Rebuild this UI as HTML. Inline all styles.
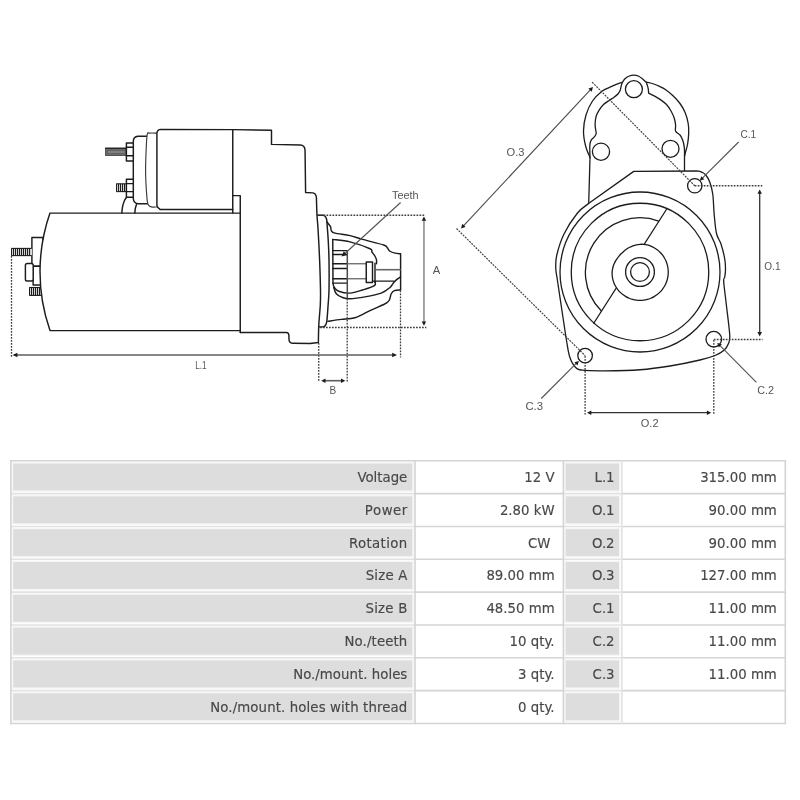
<!DOCTYPE html>
<html lang="en">
<head>
<meta charset="utf-8">
<title>Starter motor dimensions</title>
<style>
html,body{margin:0;padding:0;background:#fff;}
body{width:800px;height:800px;overflow:hidden;font-family:"Liberation Sans","DejaVu Sans",sans-serif;}
svg{display:block;will-change:transform;}
.l{fill:none;stroke:#1c1c1c;stroke-width:1.25;stroke-linejoin:round;stroke-linecap:round;}
#side .l{stroke-width:1.45;}
#front .l{stroke-width:1.3;}
.l2{fill:none;stroke:#4a4a4a;stroke-width:1.5;}
.w{fill:#fff;}
.t{fill:none;stroke:#1c1c1c;stroke-width:1.1;}
.tb{fill:#1c1c1c;stroke:none;}
.tf{fill:#fff;stroke:none;}
.bolt{fill:#6c6c6c;stroke:#4a4a4a;stroke-width:0.9;}
.bolt2{fill:#808080;stroke:#5c5c5c;stroke-width:0.7;}
#side .thin{stroke-width:1.15;stroke:#3a3a3a;}
.g{fill:none;stroke:#666;stroke-width:1.3;}
.g2{fill:none;stroke:#666;stroke-width:1.6;}
.dot{fill:none;stroke:#3c3c3c;stroke-width:1.3;stroke-dasharray:1.7 1.3;}
.dot2{fill:none;stroke:#3a3a3a;stroke-width:1.15;stroke-dasharray:1.9 1.1;}
.dim{fill:none;stroke:#333;stroke-width:1.3;}
.dimL{fill:none;stroke:#5e5e5e;stroke-width:1.6;}
.dim3{fill:none;stroke:#4a4a4a;stroke-width:1.1;}
.ldr{fill:none;stroke:#555;stroke-width:1.15;}
.dimA{fill:none;stroke:#9a9a9a;stroke-width:1.8;}
.d{font-family:"Liberation Sans","DejaVu Sans",sans-serif;font-size:11.2px;fill:#555;}
.tt{font-family:"DejaVu Sans","Liberation Sans",sans-serif;font-size:13.3px;fill:#484848;stroke:#484848;stroke-width:0.15;text-anchor:end;}
.gc{fill:#dddddd;stroke:#f6f6f6;stroke-width:3;paint-order:stroke;}
.tl{stroke:#d4d4d4;stroke-width:1.6;fill:none;}
.tl2{stroke:#e2e2e2;stroke-width:1.6;fill:none;}
</style>
</head>
<body>
<svg width="800" height="800" viewBox="0 0 800 800" role="img" aria-label="Starter motor dimension drawing and specification table">
<rect x="0" y="0" width="800" height="800" fill="#ffffff"/>
<g id="side">
<rect class="l w" x="31.9" y="237.5" width="11" height="28.75"/>
<rect class="l w" x="33.1" y="266.25" width="8" height="18.75"/>
<rect class="l w" x="25.4" y="263.5" width="7.8" height="17.5" rx="1.8"/>
<rect class="tf" x="11" y="248.4" width="20.8" height="7.2"/>
<rect class="tb" x="11" y="248.4" width="1.2" height="7.2"/>
<rect class="tb" x="13" y="248.4" width="1.2" height="7.2"/>
<rect class="tb" x="15" y="248.4" width="1.2" height="7.2"/>
<rect class="tb" x="17" y="248.4" width="1.2" height="7.2"/>
<rect class="tb" x="19" y="248.4" width="1.2" height="7.2"/>
<rect class="tb" x="21" y="248.4" width="1.2" height="7.2"/>
<rect class="tb" x="23" y="248.4" width="1.2" height="7.2"/>
<rect class="tb" x="25" y="248.4" width="1.2" height="7.2"/>
<rect class="tb" x="27" y="248.4" width="1.2" height="7.2"/>
<rect class="tb" x="29" y="248.4" width="1.2" height="7.2"/>
<line class="t" x1="11.3" y1="248.4" x2="31.8" y2="248.4"/>
<line class="t" x1="11.3" y1="255.6" x2="31.8" y2="255.6"/>
<rect class="tf" x="29" y="287.5" width="12.2" height="7.9"/>
<rect class="tb" x="29" y="287.5" width="1.2" height="7.9"/>
<rect class="tb" x="31" y="287.5" width="1.2" height="7.9"/>
<rect class="tb" x="33" y="287.5" width="1.2" height="7.9"/>
<rect class="tb" x="35" y="287.5" width="1.2" height="7.9"/>
<rect class="tb" x="37" y="287.5" width="1.2" height="7.9"/>
<rect class="tb" x="39" y="287.5" width="1.2" height="7.9"/>
<line class="t" x1="29.3" y1="287.5" x2="41.2" y2="287.5"/>
<line class="t" x1="29.3" y1="295.4" x2="41.2" y2="295.4"/>
<path class="l w" d="M240.25,213.1 L50,213.1 A177.6,177.6 0 0 0 50,330.6 L240.25,330.6"/>
<path class="l w" d="M146.7,136.25 L138,136.25 Q133.3,136.6 133.3,141.5 L133.3,198.5 Q133.6,203.6 138.5,203.75 L147.6,203.75"/>
<path class="l w thin" d="M156.9,133.1 C155.67,133.1 151.1,132.92 149.5,133.1 C147.9,133.28 147.84,131.8 147.3,134.2 C146.76,136.6 146.53,141.12 146.25,147.5 C145.97,153.88 145.49,164.17 145.6,172.5 C145.71,180.83 146.48,192.18 146.9,197.5 C147.32,202.82 147.38,202.83 148.1,204.4 C148.82,205.97 149.78,206.47 151.25,206.9 C152.72,207.33 155.96,206.98 156.9,207"/>
<path class="l w" d="M232.75,129.65 L161,129.4 Q157,129.5 156.9,133.6 L156.9,205.6 Q157.2,207.2 160,209.4 L232.75,209.4"/>
<rect class="bolt" x="105.5" y="148.1" width="20.8" height="7.4"/>
<rect class="bolt2" x="107.6" y="150.4" width="17.5" height="3"/>
<line class="t" x1="105.3" y1="148.3" x2="126.3" y2="148.3"/>
<rect class="l w" x="126.4" y="142.9" width="6.9" height="18"/>
<line class="l" x1="126.4" y1="147.3" x2="133.3" y2="147.3"/>
<line class="l" x1="126.4" y1="155.7" x2="133.3" y2="155.7"/>
<rect class="tf" x="116" y="183.8" width="10.4" height="7.8"/>
<rect class="tb" x="116" y="183.8" width="1.2" height="7.8"/>
<rect class="tb" x="118" y="183.8" width="1.2" height="7.8"/>
<rect class="tb" x="120" y="183.8" width="1.2" height="7.8"/>
<rect class="tb" x="122" y="183.8" width="1.2" height="7.8"/>
<rect class="tb" x="124" y="183.8" width="1.2" height="7.8"/>
<line class="t" x1="116.3" y1="183.8" x2="126.4" y2="183.8"/>
<line class="t" x1="116.3" y1="191.6" x2="126.4" y2="191.6"/>
<rect class="l w" x="126.4" y="179.2" width="6.9" height="18"/>
<line class="l" x1="126.4" y1="183.6" x2="133.3" y2="183.6"/>
<line class="l" x1="126.4" y1="191.6" x2="133.3" y2="191.6"/>
<path class="l" d="M121.8,213.1 C121.93,212 122.18,208.52 122.6,206.5 C123.02,204.48 123.65,202.52 124.3,201 C124.95,199.48 126.13,198 126.5,197.4"/>
<path class="l" d="M134.9,213.1 C134.97,212.33 135.02,209.98 135.3,208.5 C135.58,207.02 136.38,204.92 136.6,204.2"/>
<line class="l" x1="232.75" y1="129.65" x2="232.75" y2="213.1"/>
<path class="l" d="M232.75,195.6 L240.25,195.6 L240.25,332.5"/>
<path class="l" d="M232.75,129.65 L271.5,130.25 L271.5,144.4 L300.3,145.05 Q304.9,145.3 305.05,150.4 L305.6,192.5 L312.8,192.9 Q316,193.4 316.4,197.5 C316.5,200.42 316.72,209.58 317,215 C317.28,220.42 317.67,222.5 318.1,230 C318.53,237.5 319.2,250 319.6,260 C320,270 320.38,282.5 320.5,290 C320.62,297.5 320.57,299.5 320.3,305 C320.03,310.5 319.2,318 318.9,323 C318.6,328 318.58,331.75 318.5,335 C318.42,338.25 318.42,341.25 318.4,342.5 L310,343.5 L293,343.3 Q289.2,343.2 289,339.5 L288.9,335.5 Q288.8,332.6 286.5,332.5 L240.25,332.5"/>
<path class="l" d="M317.4,215.25 L323.2,215.25 Q326.6,216 327,222 C327.6,222.82 329.89,225.47 330.6,226.9 C331.31,228.33 330.52,229.57 331.25,230.6 C331.98,231.63 331.88,232.27 335,233.1 C338.12,233.93 345.42,234.55 350,235.6 C354.58,236.65 356.88,237.83 362.5,239.4 C368.12,240.97 379.58,243.55 383.75,245 C387.92,246.45 386.46,247.06 387.5,248.1 C388.54,249.14 388.75,250.42 390,251.25 C391.25,252.08 393.23,252.68 395,253.1 C396.77,253.52 399.67,253.64 400.6,253.75 L400.6,290 C399.57,290.1 395.96,289.98 394.4,290.6 C392.84,291.23 392.08,292.18 391.25,293.75 C390.42,295.32 390.23,298.44 389.4,300 C388.57,301.56 387.4,302.27 386.25,303.1 C385.1,303.93 385.21,303.75 382.5,305 C379.79,306.25 374.58,308.48 370,310.6 C365.42,312.73 359.79,316.28 355,317.75 C350.21,319.22 345.75,318.82 341.25,319.4 C336.75,319.98 330.21,320.94 328,321.25"/>
<path class="l" d="M326.9,221.9 C327.12,224.92 327.85,233.65 328.2,240 C328.55,246.35 328.87,251.67 329,260 C329.13,268.33 329.15,282.5 329,290 C328.85,297.5 328.45,299.9 328.1,305 C327.75,310.1 327.3,317.3 326.9,320.6 C326.5,323.9 326.22,323.8 325.7,324.8 C325.18,325.8 324.93,326.25 323.8,326.6 C322.67,326.95 319.72,326.85 318.9,326.9"/>
<path class="l" d="M332.75,239.4 C335.62,239.82 343.79,240.34 350,241.9 C356.21,243.46 366.35,247.08 370,248.75 C373.65,250.42 371.07,250.65 371.9,251.9 C372.73,253.15 374.23,254.9 375,256.25 C375.77,257.6 376.25,258.75 376.5,260 C376.75,261.25 376.5,263.12 376.5,263.75"/>
<path class="l" d="M332.75,239.4 L333,283.75 C333.23,284.38 333.44,286.25 334.4,287.5 C335.36,288.75 336.15,290.32 338.75,291.25 C341.35,292.18 346.04,293.31 350,293.1 C353.96,292.89 358.43,291.25 362.5,290 C366.57,288.75 372.32,287.02 374.4,285.6 C376.48,284.18 374.9,282.18 375,281.5"/>
<line class="l" x1="375" y1="263.1" x2="375" y2="282.5"/>
<path class="l" d="M333.75,287.5 C334.17,288.54 334.79,292.08 336.25,293.75 C337.71,295.42 340.21,296.67 342.5,297.5 C344.79,298.33 346.25,298.85 350,298.75 C353.75,298.65 359.79,297.84 365,296.9 C370.21,295.96 377.08,294.67 381.25,293.1 C385.42,291.53 387.92,289.27 390,287.5 C392.08,285.73 392.6,283.85 393.75,282.5 C394.9,281.15 395.76,280.33 396.9,279.4 C398.04,278.47 399.98,277.32 400.6,276.9"/>
<line class="l" x1="332.75" y1="250.6" x2="347.3" y2="250.6"/>
<line class="l" x1="332.75" y1="254.4" x2="347.3" y2="254.4"/>
<line class="l" x1="332.75" y1="263.75" x2="347.3" y2="263.75"/>
<line class="l" x1="332.75" y1="268.5" x2="347.3" y2="268.5"/>
<line class="l" x1="332.75" y1="278.75" x2="347.3" y2="278.75"/>
<line class="l" x1="332.75" y1="283.1" x2="347.3" y2="283.1"/>
<line class="l2" x1="347.3" y1="250.6" x2="347.3" y2="298.5"/>
<line class="g" x1="347.3" y1="263.75" x2="366.25" y2="263.75"/>
<line class="g" x1="347.3" y1="278.75" x2="366.25" y2="278.75"/>
<rect class="l w" x="366.25" y="261.9" width="6.25" height="20.6"/>
<line class="g2" x1="375.6" y1="269.7" x2="400.6" y2="269.7"/>
<line class="l" x1="372.5" y1="281.1" x2="393.75" y2="281.1"/>
<line class="dot" x1="317.5" y1="215.25" x2="424.6" y2="215.25"/>
<line class="dot" x1="320" y1="327.5" x2="426.3" y2="327.5"/>
<line class="dot" x1="11.5" y1="256" x2="11.5" y2="357.5"/>
<line class="dot" x1="318.75" y1="343" x2="318.75" y2="382"/>
<line class="dot" x1="347.2" y1="298.8" x2="347.2" y2="382"/>
<line class="dot" x1="400.5" y1="290.5" x2="400.5" y2="357.5"/>
<line class="dimL" x1="14" y1="355" x2="395" y2="355"/>
<polygon points="12.6,355 17.4,352.7 17.4,357.3" fill="#1c1c1c"/>
<polygon points="397,355 392.2,357.3 392.2,352.7" fill="#1c1c1c"/>
<line class="dimA" x1="423.95" y1="219" x2="423.95" y2="323"/>
<polygon points="423.95,216.4 426.2,220.7 421.7,220.7" fill="#1c1c1c"/>
<polygon points="423.95,325.8 421.7,321.5 426.2,321.5" fill="#1c1c1c"/>
<line class="dimL" x1="323.5" y1="380.7" x2="343" y2="380.7"/>
<polygon points="321.2,380.7 325.5,378.45 325.5,382.95" fill="#1c1c1c"/>
<polygon points="345.3,380.7 341,382.95 341,378.45" fill="#1c1c1c"/>
<line class="ldr" x1="400.6" y1="202.5" x2="345.5" y2="253"/>
<polygon points="341.6,256.6 343.74,251.24 347.12,254.93" fill="#1c1c1c"/>
<text class="d" transform="translate(391.96,199) scale(0.9754,1.05)">Teeth</text>
<text class="d" transform="translate(432.65,273.5) scale(1.0068,1.05)">A</text>
<text class="d" transform="translate(195.24,369.3) scale(0.7305,1.05)">L.1</text>
<text class="d" transform="translate(329.39,393.7) scale(0.9000,1.05)">B</text>
</g>
<g id="front">
<path class="l w" d="M588.7,204 L590.0,157.5 C589.27,155.58 586.68,150.42 585.6,146 C584.52,141.58 583.43,136.17 583.5,131 C583.57,125.83 584.5,120 586,115 C587.5,110 589.83,104.95 592.5,101 C595.17,97.05 599.08,93.6 602,91.3 C604.92,89 607.62,88.35 610,87.2 C612.38,86.05 614.17,85.23 616.25,84.4 C618.33,83.57 621.46,82.57 622.5,82.2 C622.92,81.62 623.96,79.74 625,78.75 C626.04,77.76 627.29,76.86 628.75,76.25 C630.21,75.64 632.08,75.1 633.75,75.1 C635.42,75.1 637.19,75.53 638.75,76.25 C640.31,76.97 641.85,78.43 643.1,79.4 C644.35,80.38 645.73,81.65 646.25,82.1 C647.5,82.42 651.46,83.25 653.75,84 C656.04,84.75 658.12,85.72 660,86.6 C661.88,87.48 662.83,87.77 665,89.3 C667.17,90.83 670.5,93.43 673,95.8 C675.5,98.17 677.95,100.63 680,103.5 C682.05,106.37 683.93,109.67 685.3,113 C686.67,116.33 687.63,120.17 688.2,123.5 C688.77,126.83 688.8,129.58 688.7,133 C688.6,136.42 688.17,140.67 687.6,144 C687.03,147.33 685.8,151 685.3,153 C684.8,155 684.72,155.5 684.6,156"/>
<path class="l" d="M622.5,82.2 C622.29,82.77 621.62,84.3 621.25,85.6 C620.88,86.9 620.82,88.64 620.3,90 C619.77,91.36 619.19,92.5 618.1,93.75 C617.01,95 615.18,96.42 613.75,97.5 C612.32,98.58 611.21,99.03 609.5,100.2 C607.79,101.37 605.2,102.9 603.5,104.5 C601.8,106.1 600.52,107.88 599.3,109.8 C598.08,111.72 596.9,113.63 596.2,116 C595.5,118.37 595.18,121.67 595.1,124 C595.02,126.33 595.52,128.42 595.7,130 C595.88,131.58 596.38,132.4 596.2,133.5 C596.02,134.6 595.42,135.55 594.6,136.6 C593.78,137.65 592.08,138.48 591.3,139.8 C590.52,141.12 590.15,142.8 589.9,144.5 C589.65,146.2 589.78,147.83 589.8,150 C589.82,152.17 589.97,156.25 590,157.5"/>
<path class="l" d="M646.25,82.1 C646.51,82.9 647.44,85.58 647.8,86.9 C648.16,88.22 648.27,88.97 648.4,90 C648.53,91.03 648.57,92.58 648.6,93.1 C649.46,93.52 651.85,94.55 653.75,95.6 C655.65,96.65 657.88,97.92 660,99.4 C662.12,100.88 664.67,102.57 666.5,104.5 C668.33,106.43 669.72,108.75 671,111 C672.28,113.25 673.43,115.67 674.2,118 C674.97,120.33 675.37,122.79 675.6,125 C675.83,127.21 674.87,129.58 675.6,131.25 C676.33,132.92 678.87,133.62 680,135 C681.13,136.38 681.77,138 682.4,139.5 C683.02,141 683.4,142.25 683.75,144 C684.1,145.75 684.38,148 684.5,150 C684.62,152 684.5,155 684.5,156"/>
<line class="l" x1="684.5" y1="156" x2="684.5" y2="171.3"/>
<circle class="l" cx="633.9" cy="89.2" r="8.5"/>
<circle class="l" cx="601" cy="151.7" r="8.6"/>
<circle class="l" cx="670.5" cy="148.8" r="8.5"/>
<path class="l w" d="M588.9,203.3 L633.75,171.4 L697.5,171 C698.25,171.22 700.62,171.63 702,172.3 C703.38,172.97 704.51,173.38 705.8,175 C707.09,176.62 708.59,178.83 709.75,182 C710.91,185.17 712,188.5 712.75,194 C713.5,199.5 713.62,208.42 714.25,215 C714.88,221.58 715.38,228.67 716.5,233.5 C717.62,238.33 719.62,239.75 721,244 C722.38,248.25 724,254.75 724.75,259 C725.5,263.25 725.5,266.5 725.5,269.5 C725.5,272.5 725.05,275 724.75,277 C724.45,279 723.45,277 723.7,281.5 C723.95,286 725.25,295.17 726.25,304 C727.25,312.83 729.33,327.92 729.7,334.5 C730.08,341.08 729.45,340.88 728.5,343.5 C727.55,346.12 726.25,348.25 724,350.25 C721.75,352.25 719,353.88 715,355.5 C711,357.12 707.5,358.25 700,360 C692.5,361.75 680,364.38 670,366 C660,367.62 650.83,368.95 640,369.75 C629.17,370.55 614.58,370.73 605,370.8 C595.42,370.88 587.5,370.88 582.5,370.2 C577.5,369.52 577.12,368.95 575,366.75 C572.88,364.55 571.12,361.12 569.75,357 C568.38,352.88 568.12,350.25 566.75,342 C565.38,333.75 563.12,318.25 561.5,307.5 C559.88,296.75 557.96,284.08 557,277.5 C556.04,270.92 555.78,271.75 555.75,268 C555.72,264.25 555.42,260.67 556.8,255 C558.17,249.33 560.55,241 564,234 C567.45,227 573.35,218.12 577.5,213 C581.65,207.88 587,204.92 588.9,203.3"/>
<circle class="l" cx="640" cy="272" r="80"/>
<circle class="l" cx="640" cy="272" r="68.75"/>
<line class="l" x1="666.4" y1="209.5" x2="593.75" y2="323.25"/>
<path class="l" d="M658.67,221.09 A54.6,54.6 0 0 0 601.19,310.81"/>
<path class="l w" d="M668.25,272.15 C668.25,273.38 668.17,274.62 668.01,275.84 C667.85,277.06 667.61,278.27 667.29,279.46 C666.97,280.65 666.57,281.83 666.1,282.96 C665.63,284.1 665.08,285.21 664.47,286.27 C663.85,287.34 663.16,288.37 662.41,289.35 C661.66,290.32 660.84,291.26 659.98,292.13 C659.11,292.99 658.17,293.81 657.2,294.56 C656.22,295.31 655.19,296 654.12,296.62 C653.06,297.23 651.95,297.78 650.81,298.25 C649.68,298.72 648.5,299.12 647.31,299.44 C646.12,299.76 644.91,300 643.69,300.16 C642.47,300.32 641.23,300.4 640,300.4 C638.77,300.4 637.53,300.32 636.31,300.16 C635.09,300 633.88,299.76 632.69,299.44 C631.5,299.12 630.32,298.72 629.19,298.25 C628.05,297.78 626.94,297.23 625.88,296.61 C624.81,296 623.78,295.31 622.8,294.56 C621.83,293.81 620.89,292.99 620.03,292.12 C619.16,291.25 618.34,290.32 617.6,289.34 C616.85,288.36 616.16,287.33 615.56,286.26 C614.95,285.2 614.41,284.08 613.95,282.94 C613.5,281.8 613.12,280.62 612.83,279.43 C612.54,278.24 612.33,277.02 612.22,275.81 C612.1,274.59 612.08,273.36 612.15,272.15 C612.22,270.94 612.38,269.72 612.63,268.55 C612.87,267.37 613.22,266.2 613.63,265.08 C614.04,263.96 614.54,262.87 615.09,261.83 C615.64,260.79 616.26,259.79 616.92,258.82 C617.58,257.86 618.29,256.94 619.03,256.06 C619.77,255.18 620.55,254.33 621.37,253.52 C622.18,252.7 623.03,251.92 623.91,251.18 C624.79,250.44 625.71,249.73 626.67,249.07 C627.64,248.41 628.64,247.79 629.68,247.24 C630.72,246.69 631.81,246.19 632.93,245.78 C634.05,245.37 635.22,245.02 636.4,244.78 C637.57,244.53 638.79,244.37 640,244.3 C641.21,244.23 642.44,244.25 643.66,244.37 C644.87,244.48 646.09,244.69 647.28,244.98 C648.47,245.27 649.65,245.65 650.79,246.1 C651.93,246.56 653.05,247.1 654.11,247.71 C655.18,248.31 656.21,249 657.19,249.75 C658.17,250.49 659.1,251.31 659.97,252.18 C660.84,253.04 661.66,253.98 662.41,254.95 C663.16,255.93 663.85,256.96 664.46,258.03 C665.08,259.09 665.63,260.2 666.1,261.34 C666.57,262.47 666.97,263.65 667.29,264.84 C667.61,266.03 667.85,267.24 668.01,268.46 C668.17,269.68 668.25,270.92 668.25,272.15 Z"/>
<circle class="l" cx="640" cy="272" r="14.4"/>
<circle class="l" cx="640" cy="272" r="9.4"/>
<circle class="l" cx="694.75" cy="185.75" r="7.2"/>
<circle class="l" cx="713.8" cy="339.2" r="7.8"/>
<circle class="l" cx="585.1" cy="355.6" r="7.3"/>
<line class="dot2" x1="592.2" y1="82.2" x2="694.75" y2="185.75"/>
<line class="dot2" x1="456.5" y1="228.5" x2="585.1" y2="355.6"/>
<line class="dot" x1="694.75" y1="185.75" x2="762.3" y2="185.75"/>
<line class="dot" x1="713.8" y1="339.5" x2="762.5" y2="339.5"/>
<line class="dot" x1="585.1" y1="356" x2="585.1" y2="414.5"/>
<line class="dot" x1="713.8" y1="340" x2="713.8" y2="415"/>
<line class="dim" x1="759.7" y1="192" x2="759.7" y2="334"/>
<polygon points="759.7,189.4 761.95,193.7 757.45,193.7" fill="#1c1c1c"/>
<polygon points="759.7,336.4 757.45,332.1 761.95,332.1" fill="#1c1c1c"/>
<line class="dim" x1="589.5" y1="412.7" x2="709" y2="412.7"/>
<polygon points="587,412.7 591.3,410.45 591.3,414.95" fill="#1c1c1c"/>
<polygon points="711.2,412.7 706.9,414.95 706.9,410.45" fill="#1c1c1c"/>
<line class="dim3" x1="463" y1="226.4" x2="591" y2="89.1"/>
<polygon points="593,87 591.71,91.68 588.42,88.61" fill="#1c1c1c"/>
<polygon points="461,228.5 462.29,223.82 465.58,226.89" fill="#1c1c1c"/>
<line class="ldr" x1="738.6" y1="142" x2="701.6" y2="178.9"/>
<polygon points="699.8,180.7 701.21,176.17 704.33,179.29" fill="#1c1c1c"/>
<line class="ldr" x1="756.4" y1="382.4" x2="719.3" y2="344.8"/>
<polygon points="717.3,342.9 721.83,344.31 718.71,347.43" fill="#1c1c1c"/>
<line class="ldr" x1="541.25" y1="398.5" x2="577" y2="362.7"/>
<polygon points="578.9,360.9 577.49,365.43 574.37,362.31" fill="#1c1c1c"/>
<text class="d" transform="translate(740.56,138) scale(0.8988,1.05)">C.1</text>
<text class="d" transform="translate(764.3,270) scale(0.8971,1.05)">O.1</text>
<text class="d" transform="translate(757.17,393.75) scale(0.9663,1.05)">C.2</text>
<text class="d" transform="translate(640.76,426.75) scale(0.9853,1.05)">O.2</text>
<text class="d" transform="translate(525.39,410) scale(1.0123,1.05)">C.3</text>
<text class="d" transform="translate(506.5,155.75) scale(0.9942,1.05)">O.3</text>
</g>
<g id="tbl">
<rect x="13.2" y="463.5" width="399.1" height="26.93" class="gc"/>
<rect x="565.7" y="463.5" width="53.3" height="26.93" class="gc"/>
<rect x="13.2" y="496.33" width="399.1" height="26.93" class="gc"/>
<rect x="565.7" y="496.33" width="53.3" height="26.93" class="gc"/>
<rect x="13.2" y="529.16" width="399.1" height="26.93" class="gc"/>
<rect x="565.7" y="529.16" width="53.3" height="26.93" class="gc"/>
<rect x="13.2" y="561.99" width="399.1" height="26.93" class="gc"/>
<rect x="565.7" y="561.99" width="53.3" height="26.93" class="gc"/>
<rect x="13.2" y="594.82" width="399.1" height="26.93" class="gc"/>
<rect x="565.7" y="594.82" width="53.3" height="26.93" class="gc"/>
<rect x="13.2" y="627.65" width="399.1" height="26.93" class="gc"/>
<rect x="565.7" y="627.65" width="53.3" height="26.93" class="gc"/>
<rect x="13.2" y="660.48" width="399.1" height="26.93" class="gc"/>
<rect x="565.7" y="660.48" width="53.3" height="26.93" class="gc"/>
<rect x="13.2" y="693.31" width="399.1" height="26.93" class="gc"/>
<rect x="565.7" y="693.31" width="53.3" height="26.93" class="gc"/>
<line class="tl2" x1="11" y1="493.63" x2="414.5" y2="493.63"/>
<line class="tl" x1="414.5" y1="493.63" x2="563" y2="493.63"/>
<line class="tl2" x1="563" y1="493.63" x2="622" y2="493.63"/>
<line class="tl" x1="622" y1="493.63" x2="785.5" y2="493.63"/>
<line class="tl2" x1="11" y1="526.46" x2="414.5" y2="526.46"/>
<line class="tl" x1="414.5" y1="526.46" x2="563" y2="526.46"/>
<line class="tl2" x1="563" y1="526.46" x2="622" y2="526.46"/>
<line class="tl" x1="622" y1="526.46" x2="785.5" y2="526.46"/>
<line class="tl2" x1="11" y1="559.29" x2="414.5" y2="559.29"/>
<line class="tl" x1="414.5" y1="559.29" x2="563" y2="559.29"/>
<line class="tl2" x1="563" y1="559.29" x2="622" y2="559.29"/>
<line class="tl" x1="622" y1="559.29" x2="785.5" y2="559.29"/>
<line class="tl2" x1="11" y1="592.12" x2="414.5" y2="592.12"/>
<line class="tl" x1="414.5" y1="592.12" x2="563" y2="592.12"/>
<line class="tl2" x1="563" y1="592.12" x2="622" y2="592.12"/>
<line class="tl" x1="622" y1="592.12" x2="785.5" y2="592.12"/>
<line class="tl2" x1="11" y1="624.95" x2="414.5" y2="624.95"/>
<line class="tl" x1="414.5" y1="624.95" x2="563" y2="624.95"/>
<line class="tl2" x1="563" y1="624.95" x2="622" y2="624.95"/>
<line class="tl" x1="622" y1="624.95" x2="785.5" y2="624.95"/>
<line class="tl2" x1="11" y1="657.78" x2="414.5" y2="657.78"/>
<line class="tl" x1="414.5" y1="657.78" x2="563" y2="657.78"/>
<line class="tl2" x1="563" y1="657.78" x2="622" y2="657.78"/>
<line class="tl" x1="622" y1="657.78" x2="785.5" y2="657.78"/>
<line class="tl2" x1="11" y1="690.61" x2="414.5" y2="690.61"/>
<line class="tl" x1="414.5" y1="690.61" x2="563" y2="690.61"/>
<line class="tl2" x1="563" y1="690.61" x2="622" y2="690.61"/>
<line class="tl" x1="622" y1="690.61" x2="785.5" y2="690.61"/>
<line class="tl" x1="10.1" y1="460.8" x2="786.1" y2="460.8"/>
<line class="tl" x1="10.1" y1="723.44" x2="786.1" y2="723.44"/>
<line class="tl" x1="10.9" y1="460" x2="10.9" y2="724.24"/>
<line class="tl" x1="415" y1="460" x2="415" y2="724.24"/>
<line class="tl" x1="563.4" y1="460" x2="563.4" y2="724.24"/>
<line class="tl2" x1="621.9" y1="460" x2="621.9" y2="724.24"/>
<line class="tl" x1="785.3" y1="460" x2="785.3" y2="724.24"/>
<text class="tt" x="407.3" y="481.9">Voltage</text>
<text class="tt" x="554.6" y="481.9">12 V</text>
<text class="tt" x="614.6" y="481.9">L.1</text>
<text class="tt" x="776.8" y="481.9">315.00 mm</text>
<text class="tt" x="407.88" y="514.7" style="letter-spacing:0.575px">Power</text>
<text class="tt" x="554.6" y="514.7">2.80 kW</text>
<text class="tt" x="614.6" y="514.7">O.1</text>
<text class="tt" x="776.8" y="514.7">90.00 mm</text>
<text class="tt" x="407.7" y="547.5" style="letter-spacing:0.400px">Rotation</text>
<text class="tt" x="550.4" y="547.5">CW</text>
<text class="tt" x="614.6" y="547.5">O.2</text>
<text class="tt" x="776.8" y="547.5">90.00 mm</text>
<text class="tt" x="407.5" y="580.3" style="letter-spacing:0.200px">Size A</text>
<text class="tt" x="554.6" y="580.3">89.00 mm</text>
<text class="tt" x="614.6" y="580.3">O.3</text>
<text class="tt" x="776.8" y="580.3">127.00 mm</text>
<text class="tt" x="407.52" y="613.1" style="letter-spacing:0.220px">Size B</text>
<text class="tt" x="554.6" y="613.1">48.50 mm</text>
<text class="tt" x="614.6" y="613.1">C.1</text>
<text class="tt" x="776.8" y="613.1">11.00 mm</text>
<text class="tt" x="407.43" y="645.9" style="letter-spacing:0.125px">No./teeth</text>
<text class="tt" x="554.6" y="645.9">10 qty.</text>
<text class="tt" x="614.6" y="645.9">C.2</text>
<text class="tt" x="776.8" y="645.9">11.00 mm</text>
<text class="tt" x="407.34" y="678.7" style="letter-spacing:0.040px">No./mount. holes</text>
<text class="tt" x="554.6" y="678.7">3 qty.</text>
<text class="tt" x="614.6" y="678.7">C.3</text>
<text class="tt" x="776.8" y="678.7">11.00 mm</text>
<text class="tt" x="407.42" y="711.5" style="letter-spacing:0.122px">No./mount. holes with thread</text>
<text class="tt" x="554.6" y="711.5">0 qty.</text>
</g>
</svg>
</body>
</html>
